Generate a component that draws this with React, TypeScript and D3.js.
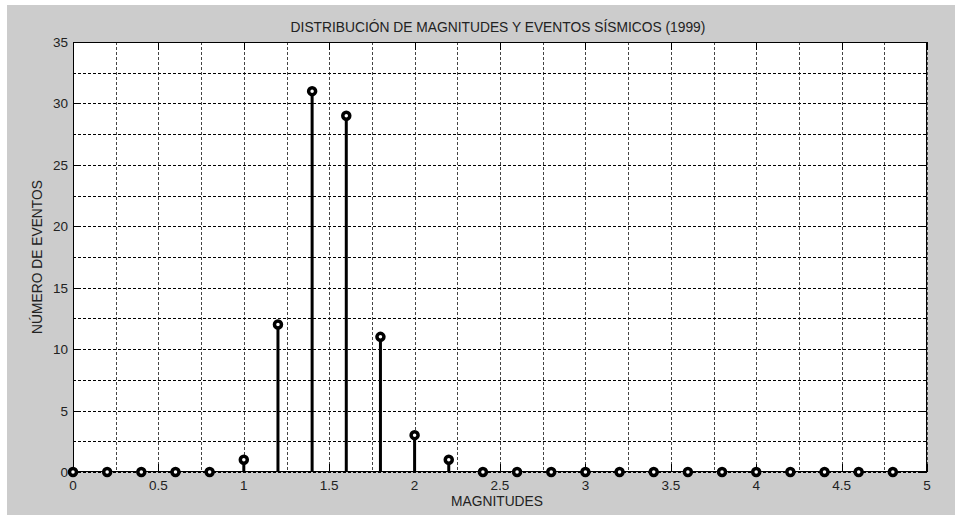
import React from "react";
import * as d3 from "d3";

const magnitudes = [0, 0.2, 0.4, 0.6, 0.8, 1.0, 1.2, 1.4, 1.6, 1.8, 2.0, 2.2, 2.4, 2.6, 2.8, 3.0, 3.2, 3.4, 3.6, 3.8, 4.0, 4.2, 4.4, 4.6, 4.8];
const eventCounts = [0, 0, 0, 0, 0, 1, 12, 31, 29, 11, 3, 1, 0, 0, 0, 0, 0, 0, 0, 0, 0, 0, 0, 0, 0];
const xTicks = [0, 0.5, 1, 1.5, 2, 2.5, 3, 3.5, 4, 4.5, 5];
const yTicks = [0, 5, 10, 15, 20, 25, 30, 35];
const xGrid = d3.range(0, 5.001, 0.25);
const yGrid = d3.range(0, 35.001, 2.5);

const title = "DISTRIBUCIÓN DE MAGNITUDES Y EVENTOS SÍSMICOS (1999)";
const xLabel = "MAGNITUDES";
const yLabel = "NÚMERO DE EVENTOS";

export default function App() {
  const W = 955, H = 515;
  const L = 73, R = 927, T = 42, B = 472;
  const x = d3.scaleLinear().domain([0, 5]).range([L, R]);
  const y = d3.scaleLinear().domain([0, 35]).range([B, T]);
  const font = "'Liberation Sans', Arial, sans-serif";
  const tickLen = 8;

  return (
    <svg width={W} height={H} style={{ position: "absolute", left: 0, top: 0 }}>
      <rect x={0} y={0} width={W} height={H} fill="#ffffff" />
      <rect x={7} y={5} width={W - 7} height={H - 5} fill="#cccccc" />
      <rect x={L} y={T} width={R - L} height={B - T} fill="#ffffff" />
      {/* grid */}
      {xGrid.map((v, i) => (
        <line key={"gx" + i} x1={Math.round(x(v)) + 0.5} x2={Math.round(x(v)) + 0.5} y1={T} y2={B}
          stroke="#444" strokeWidth={1} strokeDasharray="3,2" />
      ))}
      {yGrid.map((v, i) => (
        <line key={"gy" + i} x1={L} x2={R} y1={Math.round(y(v)) + 0.5} y2={Math.round(y(v)) + 0.5}
          stroke="#000" strokeWidth={1} strokeDasharray="3,2" />
      ))}
      {/* ticks inside */}
      {xTicks.map((v, i) => (
        <g key={"xt" + i}>
          <line x1={Math.round(x(v)) + 0.5} x2={Math.round(x(v)) + 0.5} y1={B} y2={B - tickLen} stroke="#000" />
          <line x1={Math.round(x(v)) + 0.5} x2={Math.round(x(v)) + 0.5} y1={T} y2={T + tickLen} stroke="#000" />
          <text x={x(v)} y={490} textAnchor="middle" fontFamily={font} fontSize={13.5} fill="#222">{v}</text>
        </g>
      ))}
      {yTicks.map((v, i) => (
        <g key={"yt" + i}>
          <line x1={L} x2={L + tickLen} y1={Math.round(y(v)) + 0.5} y2={Math.round(y(v)) + 0.5} stroke="#000" />
          <line x1={R} x2={R - tickLen} y1={Math.round(y(v)) + 0.5} y2={Math.round(y(v)) + 0.5} stroke="#000" />
          <text x={68} y={y(v) + 5} textAnchor="end" fontFamily={font} fontSize={13.5} fill="#222">{v}</text>
        </g>
      ))}
      {/* box */}
      <rect x={L + 0.5} y={T + 0.5} width={R - L - 1} height={B - T - 1} fill="none" stroke="#000" strokeWidth={1} />
      {/* stems */}
      {magnitudes.map((m, i) => (
        <line key={"s" + i} x1={x(m)} x2={x(m)} y1={y(0)} y2={y(eventCounts[i])} stroke="#000" strokeWidth={3} />
      ))}
      {magnitudes.map((m, i) => (
        <circle key={"c" + i} cx={x(m)} cy={y(eventCounts[i])} r={3.5} fill="#fff" stroke="#000" strokeWidth={3.5} />
      ))}
      {/* labels */}
      <text x={(L + R) / 2 - 2} y={32} textAnchor="middle" fontFamily={font} fontSize={13.8} fill="#222">{title}</text>
      <text x={(L + R) / 2 - 3} y={506} textAnchor="middle" fontFamily={font} fontSize={13.8} fill="#222">{xLabel}</text>
      <text transform={`translate(42,${(T + B) / 2}) rotate(-90)`} textAnchor="middle" fontFamily={font} fontSize={13.8} fill="#222">{yLabel}</text>
    </svg>
  );
}
